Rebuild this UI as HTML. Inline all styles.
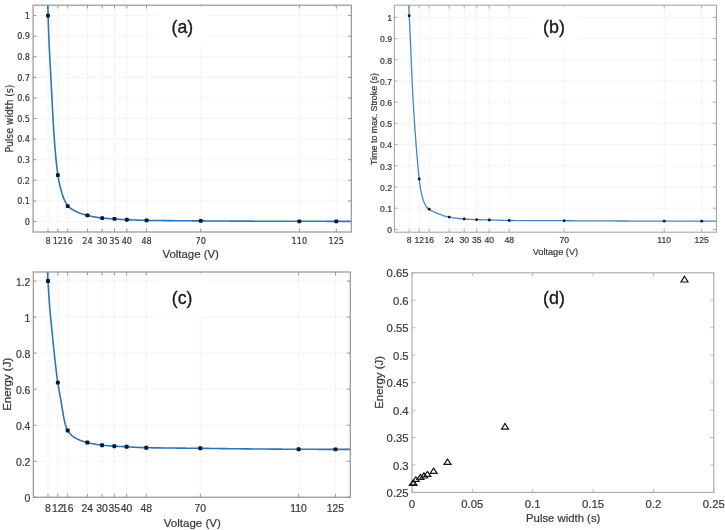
<!DOCTYPE html>
<html lang="en"><head><meta charset="utf-8"><title>Figure</title>
<style>
html,body{margin:0;padding:0;background:#fff;}
body{width:725px;height:530px;overflow:hidden;}
svg{display:block;}
</style></head><body>
<svg width="725" height="530" viewBox="0 0 725 530">
<rect width="725" height="530" fill="#fff"/>
<defs><filter id="bl" x="0" y="0" width="100%" height="100%" filterUnits="userSpaceOnUse"><feGaussianBlur stdDeviation="0.45"/></filter></defs>
<g filter="url(#bl)">
<rect width="725" height="530" fill="#fff"/>
<g>
<path d="M48.00 5.2V232.0M57.86 5.2V232.0M67.71 5.2V232.0M87.43 5.2V232.0M102.21 5.2V232.0M114.53 5.2V232.0M126.85 5.2V232.0M146.56 5.2V232.0M200.77 5.2V232.0M299.33 5.2V232.0M336.29 5.2V232.0M33.1 221.50H351.3M33.1 200.91H351.3M33.1 180.32H351.3M33.1 159.73H351.3M33.1 139.14H351.3M33.1 118.55H351.3M33.1 97.96H351.3M33.1 77.37H351.3M33.1 56.78H351.3M33.1 36.19H351.3M33.1 15.60H351.3" stroke="#eeeeee" stroke-width="0.65" fill="none"/>
<path d="M48.00 232.0v-3.3M48.00 5.2v3.3M57.86 232.0v-3.3M57.86 5.2v3.3M67.71 232.0v-3.3M67.71 5.2v3.3M87.43 232.0v-3.3M87.43 5.2v3.3M102.21 232.0v-3.3M102.21 5.2v3.3M114.53 232.0v-3.3M114.53 5.2v3.3M126.85 232.0v-3.3M126.85 5.2v3.3M146.56 232.0v-3.3M146.56 5.2v3.3M200.77 232.0v-3.3M200.77 5.2v3.3M299.33 232.0v-3.3M299.33 5.2v3.3M336.29 232.0v-3.3M336.29 5.2v3.3M33.1 221.50h3.3M351.3 221.50h-3.3M33.1 200.91h3.3M351.3 200.91h-3.3M33.1 180.32h3.3M351.3 180.32h-3.3M33.1 159.73h3.3M351.3 159.73h-3.3M33.1 139.14h3.3M351.3 139.14h-3.3M33.1 118.55h3.3M351.3 118.55h-3.3M33.1 97.96h3.3M351.3 97.96h-3.3M33.1 77.37h3.3M351.3 77.37h-3.3M33.1 56.78h3.3M351.3 56.78h-3.3M33.1 36.19h3.3M351.3 36.19h-3.3M33.1 15.60h3.3M351.3 15.60h-3.3" stroke="#8c8c8c" stroke-width="0.9" fill="none"/>
<rect x="157.7" y="6.4" width="50.20000000000002" height="38.6" fill="#fff"/>
<clipPath id="ca"><rect x="33.1" y="5.2" width="318.2" height="226.8"/></clipPath>
<path d="M45.54 -150.07L46.31 -87.61L47.07 -36.52L47.84 7.30L48.61 32.35L49.38 48.89L50.14 63.93L50.91 78.30L51.68 93.30L52.45 107.68L53.21 121.68L53.98 134.44L54.75 144.87L55.52 153.97L56.28 162.13L57.05 169.16L57.82 174.86L58.59 179.28L59.35 183.13L60.12 186.54L60.89 189.58L61.66 192.30L62.42 194.73L63.19 196.91L63.96 198.87L64.73 200.64L65.49 202.23L66.26 203.68L67.03 204.99L67.80 206.13L68.56 206.78L69.33 207.40L70.10 207.98L70.87 208.52L71.63 209.04L72.40 209.52L73.17 209.98L73.94 210.41L74.70 210.82L75.47 211.21L76.24 211.58L77.01 211.93L77.77 212.26L78.54 212.58L79.31 212.88L80.08 213.16L80.84 213.44L81.61 213.70L82.38 213.94L83.15 214.18L83.91 214.41L84.68 214.62L85.45 214.83L86.22 215.03L86.98 215.22L87.75 215.41L88.52 215.62L89.29 215.82L90.06 216.00L90.82 216.18L91.59 216.35L92.36 216.52L93.13 216.67L93.89 216.82L94.66 216.97L95.43 217.10L96.20 217.24L96.96 217.36L97.73 217.48L98.50 217.60L99.27 217.71L100.03 217.82L100.80 217.92L101.57 218.02L102.34 218.11L103.10 218.18L103.87 218.24L104.64 218.29L105.41 218.35L106.17 218.41L106.94 218.46L107.71 218.51L108.48 218.57L109.24 218.62L110.01 218.66L110.78 218.71L111.55 218.76L112.31 218.80L113.08 218.85L113.85 218.89L114.62 218.93L115.38 219.00L116.15 219.06L116.92 219.12L117.69 219.18L118.45 219.24L119.22 219.29L119.99 219.34L120.76 219.40L121.52 219.45L122.29 219.49L123.06 219.54L123.83 219.59L124.59 219.63L125.36 219.67L126.13 219.71L126.90 219.75L127.66 219.78L128.43 219.82L129.20 219.85L129.97 219.88L130.73 219.90L131.50 219.93L132.27 219.96L133.04 219.99L133.80 220.01L134.57 220.04L135.34 220.06L136.11 220.09L136.87 220.11L137.64 220.13L138.41 220.16L139.18 220.18L139.94 220.20L140.71 220.22L141.48 220.24L142.25 220.26L143.02 220.28L143.78 220.30L144.55 220.32L145.32 220.34L146.09 220.36L146.85 220.37L147.62 220.38L148.39 220.40L149.16 220.41L149.92 220.42L150.69 220.43L151.46 220.44L152.23 220.45L152.99 220.46L153.76 220.47L154.53 220.48L155.30 220.49L156.06 220.50L156.83 220.51L157.60 220.52L158.37 220.53L159.13 220.54L159.90 220.55L160.67 220.56L161.44 220.56L162.20 220.57L162.97 220.58L163.74 220.59L164.51 220.60L165.27 220.61L166.04 220.61L166.81 220.62L167.58 220.63L168.34 220.64L169.11 220.64L169.88 220.65L170.65 220.66L171.41 220.67L172.18 220.67L172.95 220.68L173.72 220.69L174.48 220.69L175.25 220.70L176.02 220.71L176.79 220.71L177.55 220.72L178.32 220.73L179.09 220.73L179.86 220.74L180.62 220.75L181.39 220.75L182.16 220.76L182.93 220.76L183.69 220.77L184.46 220.78L185.23 220.78L186.00 220.79L186.76 220.79L187.53 220.80L188.30 220.80L189.07 220.81L189.83 220.81L190.60 220.82L191.37 220.82L192.14 220.83L192.90 220.83L193.67 220.84L194.44 220.84L195.21 220.85L195.98 220.85L196.74 220.86L197.51 220.86L198.28 220.87L199.05 220.87L199.81 220.88L200.58 220.88L201.35 220.89L202.12 220.89L202.88 220.90L203.65 220.91L204.42 220.91L205.19 220.92L205.95 220.93L206.72 220.93L207.49 220.94L208.26 220.94L209.02 220.95L209.79 220.95L210.56 220.96L211.33 220.97L212.09 220.97L212.86 220.98L213.63 220.98L214.40 220.99L215.16 220.99L215.93 221.00L216.70 221.00L217.47 221.01L218.23 221.01L219.00 221.02L219.77 221.02L220.54 221.03L221.30 221.03L222.07 221.03L222.84 221.04L223.61 221.04L224.37 221.05L225.14 221.05L225.91 221.06L226.68 221.06L227.44 221.06L228.21 221.07L228.98 221.07L229.75 221.08L230.51 221.08L231.28 221.08L232.05 221.09L232.82 221.09L233.58 221.10L234.35 221.10L235.12 221.10L235.89 221.11L236.65 221.11L237.42 221.11L238.19 221.12L238.96 221.12L239.72 221.12L240.49 221.13L241.26 221.13L242.03 221.13L242.79 221.14L243.56 221.14L244.33 221.14L245.10 221.15L245.86 221.15L246.63 221.15L247.40 221.15L248.17 221.16L248.94 221.16L249.70 221.16L250.47 221.17L251.24 221.17L252.01 221.17L252.77 221.17L253.54 221.18L254.31 221.18L255.08 221.18L255.84 221.19L256.61 221.19L257.38 221.19L258.15 221.19L258.91 221.20L259.68 221.20L260.45 221.20L261.22 221.20L261.98 221.20L262.75 221.21L263.52 221.21L264.29 221.21L265.05 221.21L265.82 221.22L266.59 221.22L267.36 221.22L268.12 221.22L268.89 221.22L269.66 221.23L270.43 221.23L271.19 221.23L271.96 221.23L272.73 221.24L273.50 221.24L274.26 221.24L275.03 221.24L275.80 221.24L276.57 221.25L277.33 221.25L278.10 221.25L278.87 221.25L279.64 221.25L280.40 221.25L281.17 221.26L281.94 221.26L282.71 221.26L283.47 221.26L284.24 221.26L285.01 221.27L285.78 221.27L286.54 221.27L287.31 221.27L288.08 221.27L288.85 221.27L289.61 221.27L290.38 221.28L291.15 221.28L291.92 221.28L292.68 221.28L293.45 221.28L294.22 221.28L294.99 221.29L295.75 221.29L296.52 221.29L297.29 221.29L298.06 221.29L298.82 221.29L299.59 221.29L300.36 221.30L301.13 221.30L301.90 221.30L302.66 221.30L303.43 221.30L304.20 221.30L304.97 221.30L305.73 221.30L306.50 221.30L307.27 221.30L308.04 221.31L308.80 221.31L309.57 221.31L310.34 221.31L311.11 221.31L311.87 221.31L312.64 221.31L313.41 221.31L314.18 221.31L314.94 221.31L315.71 221.31L316.48 221.32L317.25 221.32L318.01 221.32L318.78 221.32L319.55 221.32L320.32 221.32L321.08 221.32L321.85 221.32L322.62 221.32L323.39 221.32L324.15 221.32L324.92 221.32L325.69 221.32L326.46 221.33L327.22 221.33L327.99 221.33L328.76 221.33L329.53 221.33L330.29 221.33L331.06 221.33L331.83 221.33L332.60 221.33L333.36 221.33L334.13 221.33L334.90 221.33L335.67 221.33L336.43 221.34L337.20 221.34L337.97 221.34L338.74 221.34L339.50 221.34L340.27 221.34L341.04 221.34L341.81 221.34L342.57 221.34L343.34 221.34L344.11 221.34L344.88 221.34L345.64 221.34L346.41 221.34L347.18 221.34L347.95 221.35L348.71 221.35L349.48 221.35L350.25 221.35L351.02 221.35L351.78 221.35L352.55 221.35" stroke="#2e75b6" stroke-width="1.6" fill="none" clip-path="url(#ca)" stroke-linejoin="round"/>
<rect x="33.1" y="5.2" width="318.2" height="226.8" fill="none" stroke="#8c8c8c" stroke-width="1.1"/>
<rect x="46.10" y="13.70" width="3.8" height="3.8" rx="0.8" fill="#0b1428"/>
<rect x="55.96" y="173.27" width="3.8" height="3.8" rx="0.8" fill="#0b1428"/>
<rect x="65.81" y="204.16" width="3.8" height="3.8" rx="0.8" fill="#0b1428"/>
<rect x="85.53" y="213.42" width="3.8" height="3.8" rx="0.8" fill="#0b1428"/>
<rect x="100.31" y="216.20" width="3.8" height="3.8" rx="0.8" fill="#0b1428"/>
<rect x="112.63" y="217.03" width="3.8" height="3.8" rx="0.8" fill="#0b1428"/>
<rect x="124.95" y="217.85" width="3.8" height="3.8" rx="0.8" fill="#0b1428"/>
<rect x="144.66" y="218.47" width="3.8" height="3.8" rx="0.8" fill="#0b1428"/>
<rect x="198.87" y="218.98" width="3.8" height="3.8" rx="0.8" fill="#0b1428"/>
<rect x="297.43" y="219.39" width="3.8" height="3.8" rx="0.8" fill="#0b1428"/>
<rect x="334.39" y="219.44" width="3.8" height="3.8" rx="0.8" fill="#0b1428"/>
<g font-family='"DejaVu Sans Condensed", "DejaVu Sans", "Liberation Sans", sans-serif' font-stretch="condensed" font-size="9.0" fill="#3a3a3a" stroke="#3a3a3a" stroke-width="0.2">
<text x="48.00" y="244.2" text-anchor="middle">8</text>
<text x="57.86" y="244.2" text-anchor="middle">12</text>
<text x="67.71" y="244.2" text-anchor="middle">16</text>
<text x="87.43" y="244.2" text-anchor="middle">24</text>
<text x="102.21" y="244.2" text-anchor="middle">30</text>
<text x="114.53" y="244.2" text-anchor="middle">35</text>
<text x="126.85" y="244.2" text-anchor="middle">40</text>
<text x="146.56" y="244.2" text-anchor="middle">48</text>
<text x="200.77" y="244.2" text-anchor="middle">70</text>
<text x="299.33" y="244.2" text-anchor="middle">110</text>
<text x="336.29" y="244.2" text-anchor="middle">125</text>
<text x="30.0" y="224.74" text-anchor="end">0</text>
<text x="30.0" y="204.15" text-anchor="end">0.1</text>
<text x="30.0" y="183.56" text-anchor="end">0.2</text>
<text x="30.0" y="162.97" text-anchor="end">0.3</text>
<text x="30.0" y="142.38" text-anchor="end">0.4</text>
<text x="30.0" y="121.79" text-anchor="end">0.5</text>
<text x="30.0" y="101.20" text-anchor="end">0.6</text>
<text x="30.0" y="80.61" text-anchor="end">0.7</text>
<text x="30.0" y="60.02" text-anchor="end">0.8</text>
<text x="30.0" y="39.43" text-anchor="end">0.9</text>
<text x="30.0" y="18.84" text-anchor="end">1</text>
</g>
<text x="190.7" y="257.6" text-anchor="middle" font-family='"Liberation Sans", Arial, sans-serif' font-size="11.4" fill="#3a3a3a" stroke="#3a3a3a" stroke-width="0.22">Voltage (V)</text>
<text transform="translate(13.0 118.6) rotate(-90)" text-anchor="middle" font-family='"DejaVu Sans Condensed", "DejaVu Sans", "Liberation Sans", sans-serif' font-stretch="condensed" font-size="10.3" fill="#3a3a3a" stroke="#3a3a3a" stroke-width="0.22">Pulse width (s)</text>
<text transform="translate(182.3 32.9) scale(0.95 1)" text-anchor="middle" font-family='"Liberation Sans", Arial, sans-serif' font-size="18.6" fill="#1a1a1a" stroke="#1a1a1a" stroke-width="0.35">(a)</text>
</g>
<g>
<path d="M409.20 5.2V232.2M419.20 5.2V232.2M429.20 5.2V232.2M449.20 5.2V232.2M464.20 5.2V232.2M476.70 5.2V232.2M489.20 5.2V232.2M509.20 5.2V232.2M564.20 5.2V232.2M664.20 5.2V232.2M701.70 5.2V232.2M394.4 229.40H716.4M394.4 208.20H716.4M394.4 187.00H716.4M394.4 165.80H716.4M394.4 144.60H716.4M394.4 123.40H716.4M394.4 102.20H716.4M394.4 81.00H716.4M394.4 59.80H716.4M394.4 38.60H716.4M394.4 17.40H716.4" stroke="#eeeeee" stroke-width="0.65" fill="none"/>
<path d="M409.20 232.2v-3.3M409.20 5.2v3.3M419.20 232.2v-3.3M419.20 5.2v3.3M429.20 232.2v-3.3M429.20 5.2v3.3M449.20 232.2v-3.3M449.20 5.2v3.3M464.20 232.2v-3.3M464.20 5.2v3.3M476.70 232.2v-3.3M476.70 5.2v3.3M489.20 232.2v-3.3M489.20 5.2v3.3M509.20 232.2v-3.3M509.20 5.2v3.3M564.20 232.2v-3.3M564.20 5.2v3.3M664.20 232.2v-3.3M664.20 5.2v3.3M701.70 232.2v-3.3M701.70 5.2v3.3M394.4 229.40h3.3M716.4 229.40h-3.3M394.4 208.20h3.3M716.4 208.20h-3.3M394.4 187.00h3.3M716.4 187.00h-3.3M394.4 165.80h3.3M716.4 165.80h-3.3M394.4 144.60h3.3M716.4 144.60h-3.3M394.4 123.40h3.3M716.4 123.40h-3.3M394.4 102.20h3.3M716.4 102.20h-3.3M394.4 81.00h3.3M716.4 81.00h-3.3M394.4 59.80h3.3M716.4 59.80h-3.3M394.4 38.60h3.3M716.4 38.60h-3.3M394.4 17.40h3.3M716.4 17.40h-3.3" stroke="#a6a6a6" stroke-width="0.9" fill="none"/>
<rect x="529.5" y="6.4" width="50.5" height="39.0" fill="#fff"/>
<clipPath id="cb"><rect x="394.4" y="5.2" width="322.0" height="227.0"/></clipPath>
<path d="M406.70 -127.02L407.48 -63.03L408.25 -14.80L409.03 12.28L409.81 27.15L410.58 44.45L411.36 63.77L412.13 81.17L412.91 96.69L413.69 109.90L414.46 121.94L415.24 133.05L416.01 143.37L416.79 153.09L417.57 162.27L418.34 170.75L419.12 178.33L419.90 184.65L420.67 189.43L421.45 193.45L422.23 196.65L423.00 199.30L423.78 201.55L424.55 203.42L425.33 205.01L426.11 206.33L426.88 207.32L427.66 208.10L428.44 208.76L429.21 209.31L429.99 209.81L430.76 210.28L431.54 210.72L432.32 211.14L433.09 211.54L433.87 211.91L434.64 212.27L435.42 212.61L436.20 212.94L436.97 213.25L437.75 213.56L438.53 213.85L439.30 214.15L440.08 214.43L440.86 214.72L441.63 215.00L442.41 215.27L443.18 215.54L443.96 215.79L444.74 216.04L445.51 216.27L446.29 216.48L447.06 216.69L447.84 216.87L448.62 217.04L449.39 217.18L450.17 217.32L450.95 217.45L451.72 217.57L452.50 217.70L453.27 217.81L454.05 217.92L454.83 218.03L455.60 218.13L456.38 218.23L457.16 218.32L457.93 218.41L458.71 218.50L459.49 218.58L460.26 218.66L461.04 218.73L461.81 218.80L462.59 218.87L463.37 218.93L464.14 218.99L464.92 219.06L465.69 219.10L466.47 219.15L467.25 219.19L468.02 219.24L468.80 219.28L469.58 219.32L470.35 219.36L471.13 219.40L471.90 219.43L472.68 219.47L473.46 219.51L474.23 219.54L475.01 219.58L475.79 219.61L476.56 219.64L477.34 219.67L478.12 219.69L478.89 219.71L479.67 219.73L480.44 219.75L481.22 219.77L482.00 219.78L482.77 219.80L483.55 219.82L484.32 219.84L485.10 219.86L485.88 219.87L486.65 219.89L487.43 219.91L488.21 219.92L488.98 219.94L489.76 219.96L490.53 219.99L491.31 220.02L492.09 220.04L492.86 220.07L493.64 220.09L494.42 220.12L495.19 220.14L495.97 220.17L496.75 220.19L497.52 220.21L498.30 220.23L499.07 220.25L499.85 220.28L500.63 220.30L501.40 220.32L502.18 220.34L502.95 220.35L503.73 220.37L504.51 220.39L505.28 220.41L506.06 220.43L506.84 220.45L507.61 220.46L508.39 220.48L509.16 220.50L509.94 220.50L510.72 220.50L511.49 220.51L512.27 220.51L513.05 220.52L513.82 220.52L514.60 220.52L515.38 220.53L516.15 220.53L516.93 220.53L517.70 220.54L518.48 220.54L519.26 220.54L520.03 220.55L520.81 220.55L521.59 220.55L522.36 220.56L523.14 220.56L523.91 220.57L524.69 220.57L525.47 220.57L526.24 220.58L527.02 220.58L527.79 220.58L528.57 220.58L529.35 220.59L530.12 220.59L530.90 220.59L531.68 220.60L532.45 220.60L533.23 220.60L534.00 220.61L534.78 220.61L535.56 220.61L536.33 220.62L537.11 220.62L537.89 220.62L538.66 220.62L539.44 220.63L540.21 220.63L540.99 220.63L541.77 220.64L542.54 220.64L543.32 220.64L544.10 220.64L544.87 220.65L545.65 220.65L546.42 220.65L547.20 220.65L547.98 220.66L548.75 220.66L549.53 220.66L550.31 220.66L551.08 220.67L551.86 220.67L552.63 220.67L553.41 220.67L554.19 220.68L554.96 220.68L555.74 220.68L556.52 220.68L557.29 220.69L558.07 220.69L558.85 220.69L559.62 220.69L560.40 220.70L561.17 220.70L561.95 220.70L562.73 220.70L563.50 220.71L564.28 220.71L565.05 220.71L565.83 220.72L566.61 220.72L567.38 220.73L568.16 220.73L568.94 220.74L569.71 220.74L570.49 220.75L571.26 220.75L572.04 220.76L572.82 220.76L573.59 220.77L574.37 220.77L575.15 220.78L575.92 220.78L576.70 220.79L577.47 220.79L578.25 220.80L579.03 220.80L579.80 220.81L580.58 220.81L581.36 220.81L582.13 220.82L582.91 220.82L583.68 220.83L584.46 220.83L585.24 220.84L586.01 220.84L586.79 220.84L587.57 220.85L588.34 220.85L589.12 220.86L589.89 220.86L590.67 220.86L591.45 220.87L592.22 220.87L593.00 220.88L593.78 220.88L594.55 220.88L595.33 220.89L596.11 220.89L596.88 220.89L597.66 220.90L598.43 220.90L599.21 220.91L599.99 220.91L600.76 220.91L601.54 220.92L602.31 220.92L603.09 220.92L603.87 220.93L604.64 220.93L605.42 220.93L606.20 220.94L606.97 220.94L607.75 220.94L608.52 220.95L609.30 220.95L610.08 220.95L610.85 220.96L611.63 220.96L612.41 220.96L613.18 220.97L613.96 220.97L614.74 220.97L615.51 220.98L616.29 220.98L617.06 220.98L617.84 220.98L618.62 220.99L619.39 220.99L620.17 220.99L620.94 221.00L621.72 221.00L622.50 221.00L623.27 221.00L624.05 221.01L624.83 221.01L625.60 221.01L626.38 221.02L627.15 221.02L627.93 221.02L628.71 221.02L629.48 221.03L630.26 221.03L631.04 221.03L631.81 221.04L632.59 221.04L633.37 221.04L634.14 221.04L634.92 221.05L635.69 221.05L636.47 221.05L637.25 221.05L638.02 221.06L638.80 221.06L639.58 221.06L640.35 221.06L641.13 221.07L641.90 221.07L642.68 221.07L643.46 221.07L644.23 221.08L645.01 221.08L645.78 221.08L646.56 221.08L647.34 221.08L648.11 221.09L648.89 221.09L649.67 221.09L650.44 221.09L651.22 221.10L651.99 221.10L652.77 221.10L653.55 221.10L654.32 221.11L655.10 221.11L655.88 221.11L656.65 221.11L657.43 221.11L658.20 221.12L658.98 221.12L659.76 221.12L660.53 221.12L661.31 221.12L662.09 221.13L662.86 221.13L663.64 221.13L664.41 221.13L665.19 221.13L665.97 221.13L666.74 221.13L667.52 221.13L668.30 221.13L669.07 221.13L669.85 221.13L670.62 221.13L671.40 221.13L672.18 221.13L672.95 221.13L673.73 221.13L674.51 221.13L675.28 221.13L676.06 221.13L676.84 221.13L677.61 221.13L678.39 221.13L679.16 221.13L679.94 221.13L680.72 221.13L681.49 221.13L682.27 221.13L683.04 221.13L683.82 221.13L684.60 221.13L685.37 221.13L686.15 221.13L686.93 221.13L687.70 221.13L688.48 221.13L689.25 221.13L690.03 221.13L690.81 221.13L691.58 221.13L692.36 221.13L693.14 221.13L693.91 221.13L694.69 221.13L695.46 221.13L696.24 221.13L697.02 221.13L697.79 221.13L698.57 221.13L699.35 221.13L700.12 221.13L700.90 221.13L701.67 221.13L702.45 221.13L703.23 221.13L704.00 221.13L704.78 221.13L705.56 221.13L706.33 221.13L707.11 221.13L707.88 221.13L708.66 221.13L709.44 221.13L710.21 221.13L710.99 221.13L711.77 221.13L712.54 221.13L713.32 221.13L714.10 221.13L714.87 221.13L715.65 221.13L716.42 221.13L717.20 221.13" stroke="#4386c4" stroke-width="1.3" fill="none" clip-path="url(#cb)" stroke-linejoin="round"/>
<rect x="394.4" y="5.2" width="322.0" height="227.0" fill="none" stroke="#a6a6a6" stroke-width="1.1"/>
<circle cx="409.20" cy="15.81" r="1.45" fill="#0b1428"/>
<circle cx="419.20" cy="179.05" r="1.45" fill="#0b1428"/>
<circle cx="429.20" cy="209.26" r="1.45" fill="#0b1428"/>
<circle cx="449.20" cy="217.10" r="1.45" fill="#0b1428"/>
<circle cx="464.20" cy="219.01" r="1.45" fill="#0b1428"/>
<circle cx="476.70" cy="219.65" r="1.45" fill="#0b1428"/>
<circle cx="489.20" cy="219.94" r="1.45" fill="#0b1428"/>
<circle cx="509.20" cy="220.50" r="1.45" fill="#0b1428"/>
<circle cx="564.20" cy="220.71" r="1.45" fill="#0b1428"/>
<circle cx="664.20" cy="221.13" r="1.45" fill="#0b1428"/>
<circle cx="701.70" cy="221.13" r="1.45" fill="#0b1428"/>
<g font-family='"Liberation Sans", Arial, sans-serif' font-stretch="normal" font-size="8.6" fill="#3a3a3a" stroke="#3a3a3a" stroke-width="0.22">
<text x="409.20" y="242.8" text-anchor="middle">8</text>
<text x="419.20" y="242.8" text-anchor="middle">12</text>
<text x="429.20" y="242.8" text-anchor="middle">16</text>
<text x="449.20" y="242.8" text-anchor="middle">24</text>
<text x="464.20" y="242.8" text-anchor="middle">30</text>
<text x="476.70" y="242.8" text-anchor="middle">35</text>
<text x="489.20" y="242.8" text-anchor="middle">40</text>
<text x="509.20" y="242.8" text-anchor="middle">48</text>
<text x="564.20" y="242.8" text-anchor="middle">70</text>
<text x="664.20" y="242.8" text-anchor="middle">110</text>
<text x="701.70" y="242.8" text-anchor="middle">125</text>
<text x="392" y="233.10" text-anchor="end">0</text>
<text x="392" y="211.90" text-anchor="end">0.1</text>
<text x="392" y="190.70" text-anchor="end">0.2</text>
<text x="392" y="169.50" text-anchor="end">0.3</text>
<text x="392" y="148.30" text-anchor="end">0.4</text>
<text x="392" y="127.10" text-anchor="end">0.5</text>
<text x="392" y="105.90" text-anchor="end">0.6</text>
<text x="392" y="84.70" text-anchor="end">0.7</text>
<text x="392" y="63.50" text-anchor="end">0.8</text>
<text x="392" y="42.30" text-anchor="end">0.9</text>
<text x="392" y="21.10" text-anchor="end">1</text>
</g>
<text x="555.4" y="254.5" text-anchor="middle" font-family='"Liberation Sans", Arial, sans-serif' font-size="9.17" fill="#3a3a3a" stroke="#3a3a3a" stroke-width="0.22">Voltage (V)</text>
<text transform="translate(376.7 119) rotate(-90)" text-anchor="middle" font-family='"Liberation Sans", Arial, sans-serif' font-stretch="normal" font-size="8.9" fill="#3a3a3a" stroke="#3a3a3a" stroke-width="0.22">Time to max. Stroke (s)</text>
<text transform="translate(554.0 32.5) scale(0.96 1)" text-anchor="middle" font-family='"Liberation Sans", Arial, sans-serif' font-size="18.6" fill="#1a1a1a" stroke="#1a1a1a" stroke-width="0.35">(b)</text>
</g>
<g>
<path d="M48.00 272.0V497.2M57.82 272.0V497.2M67.65 272.0V497.2M87.31 272.0V497.2M102.05 272.0V497.2M114.33 272.0V497.2M126.62 272.0V497.2M146.28 272.0V497.2M200.33 272.0V497.2M298.61 272.0V497.2M335.46 272.0V497.2M33.3 497.30H350.3M33.3 461.26H350.3M33.3 425.22H350.3M33.3 389.18H350.3M33.3 353.14H350.3M33.3 317.10H350.3M33.3 281.06H350.3" stroke="#eeeeee" stroke-width="0.65" fill="none"/>
<path d="M48.00 497.2v-3.3M48.00 272.0v3.3M57.82 497.2v-3.3M57.82 272.0v3.3M67.65 497.2v-3.3M67.65 272.0v3.3M87.31 497.2v-3.3M87.31 272.0v3.3M102.05 497.2v-3.3M102.05 272.0v3.3M114.33 497.2v-3.3M114.33 272.0v3.3M126.62 497.2v-3.3M126.62 272.0v3.3M146.28 497.2v-3.3M146.28 272.0v3.3M200.33 497.2v-3.3M200.33 272.0v3.3M298.61 497.2v-3.3M298.61 272.0v3.3M335.46 497.2v-3.3M335.46 272.0v3.3M33.3 497.30h3.3M350.3 497.30h-3.3M33.3 461.26h3.3M350.3 461.26h-3.3M33.3 425.22h3.3M350.3 425.22h-3.3M33.3 389.18h3.3M350.3 389.18h-3.3M33.3 353.14h3.3M350.3 353.14h-3.3M33.3 317.10h3.3M350.3 317.10h-3.3M33.3 281.06h3.3M350.3 281.06h-3.3" stroke="#8c8c8c" stroke-width="0.9" fill="none"/>
<rect x="157.7" y="273.2" width="50.20000000000002" height="43.30000000000001" fill="#fff"/>
<clipPath id="cc"><rect x="33.3" y="272.0" width="317.0" height="225.2"/></clipPath>
<path d="M45.54 170.71L46.30 221.73L47.06 259.36L47.83 278.43L48.59 290.61L49.35 302.15L50.12 312.21L50.88 320.44L51.64 327.79L52.41 335.26L53.17 342.80L53.93 350.28L54.69 357.56L55.46 364.51L56.22 371.01L56.98 376.90L57.75 382.09L58.51 386.86L59.27 391.33L60.03 395.66L60.80 399.98L61.56 404.48L62.32 409.16L63.09 413.73L63.85 417.89L64.61 421.42L65.37 424.55L66.14 427.09L66.90 429.02L67.66 430.46L68.43 431.56L69.19 432.57L69.95 433.49L70.71 434.34L71.48 435.10L72.24 435.80L73.00 436.42L73.77 436.99L74.53 437.49L75.29 437.93L76.05 438.35L76.82 438.75L77.58 439.13L78.34 439.49L79.11 439.82L79.87 440.14L80.63 440.45L81.40 440.73L82.16 441.00L82.92 441.26L83.68 441.51L84.45 441.74L85.21 441.96L85.97 442.17L86.74 442.37L87.50 442.57L88.26 442.75L89.02 442.93L89.79 443.11L90.55 443.27L91.31 443.44L92.08 443.59L92.84 443.74L93.60 443.89L94.36 444.03L95.13 444.16L95.89 444.30L96.65 444.42L97.42 444.55L98.18 444.67L98.94 444.78L99.70 444.90L100.47 445.01L101.23 445.11L101.99 445.21L102.76 445.29L103.52 445.36L104.28 445.43L105.05 445.50L105.81 445.56L106.57 445.63L107.33 445.69L108.10 445.76L108.86 445.82L109.62 445.87L110.39 445.93L111.15 445.99L111.91 446.04L112.67 446.10L113.44 446.15L114.20 446.20L114.96 446.24L115.73 446.28L116.49 446.32L117.25 446.36L118.01 446.39L118.78 446.43L119.54 446.46L120.30 446.49L121.07 446.53L121.83 446.56L122.59 446.59L123.35 446.62L124.12 446.66L124.88 446.69L125.64 446.72L126.41 446.75L127.17 446.79L127.93 446.84L128.69 446.88L129.46 446.93L130.22 446.97L130.98 447.02L131.75 447.06L132.51 447.10L133.27 447.15L134.04 447.19L134.80 447.23L135.56 447.27L136.32 447.30L137.09 447.34L137.85 447.38L138.61 447.42L139.38 447.45L140.14 447.49L140.90 447.52L141.66 447.55L142.43 447.59L143.19 447.62L143.95 447.65L144.72 447.68L145.48 447.71L146.24 447.74L147.00 447.75L147.77 447.77L148.53 447.78L149.29 447.79L150.06 447.79L150.82 447.80L151.58 447.81L152.34 447.82L153.11 447.83L153.87 447.84L154.63 447.85L155.40 447.86L156.16 447.87L156.92 447.88L157.69 447.89L158.45 447.90L159.21 447.91L159.97 447.92L160.74 447.92L161.50 447.93L162.26 447.94L163.03 447.95L163.79 447.96L164.55 447.97L165.31 447.97L166.08 447.98L166.84 447.99L167.60 448.00L168.37 448.01L169.13 448.01L169.89 448.02L170.65 448.03L171.42 448.04L172.18 448.04L172.94 448.05L173.71 448.06L174.47 448.07L175.23 448.07L175.99 448.08L176.76 448.09L177.52 448.10L178.28 448.10L179.05 448.11L179.81 448.12L180.57 448.12L181.33 448.13L182.10 448.14L182.86 448.14L183.62 448.15L184.39 448.16L185.15 448.16L185.91 448.17L186.68 448.18L187.44 448.18L188.20 448.19L188.96 448.20L189.73 448.20L190.49 448.21L191.25 448.22L192.02 448.22L192.78 448.23L193.54 448.23L194.30 448.24L195.07 448.25L195.83 448.25L196.59 448.26L197.36 448.26L198.12 448.27L198.88 448.27L199.64 448.28L200.41 448.29L201.17 448.30L201.93 448.31L202.70 448.33L203.46 448.34L204.22 448.35L204.98 448.36L205.75 448.37L206.51 448.39L207.27 448.40L208.04 448.41L208.80 448.42L209.56 448.43L210.33 448.45L211.09 448.46L211.85 448.47L212.61 448.48L213.38 448.49L214.14 448.50L214.90 448.51L215.67 448.52L216.43 448.53L217.19 448.54L217.95 448.55L218.72 448.56L219.48 448.57L220.24 448.58L221.01 448.59L221.77 448.60L222.53 448.61L223.29 448.62L224.06 448.63L224.82 448.64L225.58 448.65L226.35 448.66L227.11 448.67L227.87 448.68L228.63 448.69L229.40 448.70L230.16 448.71L230.92 448.72L231.69 448.73L232.45 448.73L233.21 448.74L233.97 448.75L234.74 448.76L235.50 448.77L236.26 448.78L237.03 448.78L237.79 448.79L238.55 448.80L239.32 448.81L240.08 448.82L240.84 448.82L241.60 448.83L242.37 448.84L243.13 448.85L243.89 448.86L244.66 448.86L245.42 448.87L246.18 448.88L246.94 448.89L247.71 448.89L248.47 448.90L249.23 448.91L250.00 448.92L250.76 448.92L251.52 448.93L252.28 448.94L253.05 448.94L253.81 448.95L254.57 448.96L255.34 448.96L256.10 448.97L256.86 448.98L257.62 448.98L258.39 448.99L259.15 449.00L259.91 449.00L260.68 449.01L261.44 449.02L262.20 449.02L262.97 449.03L263.73 449.04L264.49 449.04L265.25 449.05L266.02 449.05L266.78 449.06L267.54 449.07L268.31 449.07L269.07 449.08L269.83 449.08L270.59 449.09L271.36 449.10L272.12 449.10L272.88 449.11L273.65 449.11L274.41 449.12L275.17 449.12L275.93 449.13L276.70 449.13L277.46 449.14L278.22 449.15L278.99 449.15L279.75 449.16L280.51 449.16L281.27 449.17L282.04 449.17L282.80 449.18L283.56 449.18L284.33 449.19L285.09 449.19L285.85 449.20L286.61 449.20L287.38 449.21L288.14 449.21L288.90 449.22L289.67 449.22L290.43 449.23L291.19 449.23L291.96 449.24L292.72 449.24L293.48 449.25L294.24 449.25L295.01 449.26L295.77 449.26L296.53 449.26L297.30 449.27L298.06 449.27L298.82 449.28L299.58 449.28L300.35 449.28L301.11 449.28L301.87 449.29L302.64 449.29L303.40 449.29L304.16 449.29L304.92 449.29L305.69 449.30L306.45 449.30L307.21 449.30L307.98 449.30L308.74 449.30L309.50 449.31L310.26 449.31L311.03 449.31L311.79 449.31L312.55 449.31L313.32 449.31L314.08 449.32L314.84 449.32L315.61 449.32L316.37 449.32L317.13 449.32L317.89 449.33L318.66 449.33L319.42 449.33L320.18 449.33L320.95 449.33L321.71 449.34L322.47 449.34L323.23 449.34L324.00 449.34L324.76 449.34L325.52 449.34L326.29 449.35L327.05 449.35L327.81 449.35L328.57 449.35L329.34 449.35L330.10 449.35L330.86 449.36L331.63 449.36L332.39 449.36L333.15 449.36L333.91 449.36L334.68 449.37L335.44 449.37L336.20 449.37L336.97 449.37L337.73 449.37L338.49 449.37L339.25 449.38L340.02 449.38L340.78 449.38L341.54 449.38L342.31 449.38L343.07 449.38L343.83 449.38L344.60 449.39L345.36 449.39L346.12 449.39L346.88 449.39L347.65 449.39L348.41 449.39L349.17 449.40L349.94 449.40L350.70 449.40" stroke="#2e75b6" stroke-width="1.6" fill="none" clip-path="url(#cc)" stroke-linejoin="round"/>
<rect x="33.3" y="272.0" width="317.0" height="225.2" fill="none" stroke="#8c8c8c" stroke-width="1.1"/>
<rect x="46.05" y="279.11" width="3.9" height="3.9" rx="0.8" fill="#0b1428"/>
<rect x="55.87" y="380.65" width="3.9" height="3.9" rx="0.8" fill="#0b1428"/>
<rect x="65.70" y="428.50" width="3.9" height="3.9" rx="0.8" fill="#0b1428"/>
<rect x="85.36" y="440.57" width="3.9" height="3.9" rx="0.8" fill="#0b1428"/>
<rect x="100.10" y="443.27" width="3.9" height="3.9" rx="0.8" fill="#0b1428"/>
<rect x="112.38" y="444.26" width="3.9" height="3.9" rx="0.8" fill="#0b1428"/>
<rect x="124.67" y="444.80" width="3.9" height="3.9" rx="0.8" fill="#0b1428"/>
<rect x="144.33" y="445.80" width="3.9" height="3.9" rx="0.8" fill="#0b1428"/>
<rect x="198.38" y="446.34" width="3.9" height="3.9" rx="0.8" fill="#0b1428"/>
<rect x="296.66" y="447.33" width="3.9" height="3.9" rx="0.8" fill="#0b1428"/>
<rect x="333.51" y="447.42" width="3.9" height="3.9" rx="0.8" fill="#0b1428"/>
<g font-family='"Liberation Sans", Arial, sans-serif' font-stretch="normal" font-size="10.4" fill="#3a3a3a" stroke="#3a3a3a" stroke-width="0.22">
<text x="48.00" y="511.5" text-anchor="middle">8</text>
<text x="57.82" y="511.5" text-anchor="middle">12</text>
<text x="67.65" y="511.5" text-anchor="middle">16</text>
<text x="87.31" y="511.5" text-anchor="middle">24</text>
<text x="102.05" y="511.5" text-anchor="middle">30</text>
<text x="114.33" y="511.5" text-anchor="middle">35</text>
<text x="126.62" y="511.5" text-anchor="middle">40</text>
<text x="146.28" y="511.5" text-anchor="middle">48</text>
<text x="200.33" y="511.5" text-anchor="middle">70</text>
<text x="298.61" y="511.5" text-anchor="middle">110</text>
<text x="335.46" y="511.5" text-anchor="middle">125</text>
<text x="30.4" y="502.34" text-anchor="end">0</text>
<text x="30.4" y="466.30" text-anchor="end">0.2</text>
<text x="30.4" y="430.26" text-anchor="end">0.4</text>
<text x="30.4" y="394.22" text-anchor="end">0.6</text>
<text x="30.4" y="358.18" text-anchor="end">0.8</text>
<text x="30.4" y="322.14" text-anchor="end">1</text>
<text x="30.4" y="286.10" text-anchor="end">1.2</text>
</g>
<text x="192.3" y="526.6" text-anchor="middle" font-family='"Liberation Sans", Arial, sans-serif' font-size="11.55" fill="#3a3a3a" stroke="#3a3a3a" stroke-width="0.22">Voltage (V)</text>
<text transform="translate(10.9 384.3) rotate(-90)" text-anchor="middle" font-family='"Liberation Sans", Arial, sans-serif' font-stretch="normal" font-size="11.5" fill="#3a3a3a" stroke="#3a3a3a" stroke-width="0.22">Energy (J)</text>
<text transform="translate(182.1 304.1) scale(0.95 1)" text-anchor="middle" font-family='"Liberation Sans", Arial, sans-serif' font-size="18.6" fill="#1a1a1a" stroke="#1a1a1a" stroke-width="0.35">(c)</text>
</g>
<g>
<path d="M411.95 492.4v-3.4M411.95 272.8v3.4M472.32 492.4v-3.4M472.32 272.8v3.4M532.69 492.4v-3.4M532.69 272.8v3.4M593.06 492.4v-3.4M593.06 272.8v3.4M653.43 492.4v-3.4M653.43 272.8v3.4M713.80 492.4v-3.4M713.80 272.8v3.4M411.95 492.40h3.4M713.8 492.40h-3.4M411.95 464.95h3.4M713.8 464.95h-3.4M411.95 437.50h3.4M713.8 437.50h-3.4M411.95 410.05h3.4M713.8 410.05h-3.4M411.95 382.60h3.4M713.8 382.60h-3.4M411.95 355.15h3.4M713.8 355.15h-3.4M411.95 327.70h3.4M713.8 327.70h-3.4M411.95 300.25h3.4M713.8 300.25h-3.4M411.95 272.80h3.4M713.8 272.80h-3.4" stroke="#b0b0b0" stroke-width="0.9" fill="none"/>
<rect x="411.95" y="272.8" width="301.84999999999997" height="219.59999999999997" fill="none" stroke="#b0b0b0" stroke-width="1.2"/>
<path d="M684.50 276.27L688.00 282.00H681.00Z" fill="none" stroke="#151515" stroke-width="1.2" stroke-linejoin="miter"/>
<path d="M505.06 423.47L508.56 429.10H501.56Z" fill="none" stroke="#151515" stroke-width="1.2" stroke-linejoin="miter"/>
<path d="M447.50 459.07L451.00 464.30H444.00Z" fill="none" stroke="#151515" stroke-width="1.2" stroke-linejoin="miter"/>
<path d="M433.60 468.17L437.10 473.30H430.10Z" fill="none" stroke="#151515" stroke-width="1.2" stroke-linejoin="miter"/>
<path d="M427.40 471.47L430.90 476.40H423.90Z" fill="none" stroke="#151515" stroke-width="1.2" stroke-linejoin="miter"/>
<path d="M423.90 472.87L427.40 478.00H420.40Z" fill="none" stroke="#151515" stroke-width="1.2" stroke-linejoin="miter"/>
<path d="M420.40 474.37L423.90 479.40H416.90Z" fill="none" stroke="#151515" stroke-width="1.2" stroke-linejoin="miter"/>
<path d="M415.80 476.87L419.30 481.40H412.30Z" fill="none" stroke="#151515" stroke-width="1.2" stroke-linejoin="miter"/>
<path d="M413.30 480.17L416.80 484.90H409.80Z" fill="none" stroke="#151515" stroke-width="1.2" stroke-linejoin="miter"/>
<path d="M413.00 480.57L416.50 485.30H409.50Z" fill="none" stroke="#151515" stroke-width="1.2" stroke-linejoin="miter"/>
<g font-family='"Liberation Sans", Arial, sans-serif' font-size="11.3" fill="#3a3a3a" stroke="#3a3a3a" stroke-width="0.22">
<text x="411.95" y="507.5" text-anchor="middle">0</text>
<text x="472.32" y="507.5" text-anchor="middle">0.05</text>
<text x="532.69" y="507.5" text-anchor="middle">0.1</text>
<text x="593.06" y="507.5" text-anchor="middle">0.15</text>
<text x="653.43" y="507.5" text-anchor="middle">0.2</text>
<text x="713.80" y="507.5" text-anchor="middle">0.25</text>
<text x="408.6" y="496.97" text-anchor="end">0.25</text>
<text x="408.6" y="469.52" text-anchor="end">0.3</text>
<text x="408.6" y="442.07" text-anchor="end">0.35</text>
<text x="408.6" y="414.62" text-anchor="end">0.4</text>
<text x="408.6" y="387.17" text-anchor="end">0.45</text>
<text x="408.6" y="359.72" text-anchor="end">0.5</text>
<text x="408.6" y="332.27" text-anchor="end">0.55</text>
<text x="408.6" y="304.82" text-anchor="end">0.6</text>
<text x="408.6" y="277.37" text-anchor="end">0.65</text>
</g>
<text x="563.2" y="521.6" text-anchor="middle" font-family='"Liberation Sans", Arial, sans-serif' font-size="11.33" fill="#3a3a3a" stroke="#3a3a3a" stroke-width="0.22">Pulse width (s)</text>
<text transform="translate(382.5 382.4) rotate(-90)" text-anchor="middle" font-family='"Liberation Sans", Arial, sans-serif' font-size="11.45" fill="#3a3a3a" stroke="#3a3a3a" stroke-width="0.22">Energy (J)</text>
<text transform="translate(554.0 304.0) scale(0.96 1)" text-anchor="middle" font-family='"Liberation Sans", Arial, sans-serif' font-size="18.6" fill="#1a1a1a" stroke="#1a1a1a" stroke-width="0.35">(d)</text>
</g>
</g>
</svg>
</body></html>
